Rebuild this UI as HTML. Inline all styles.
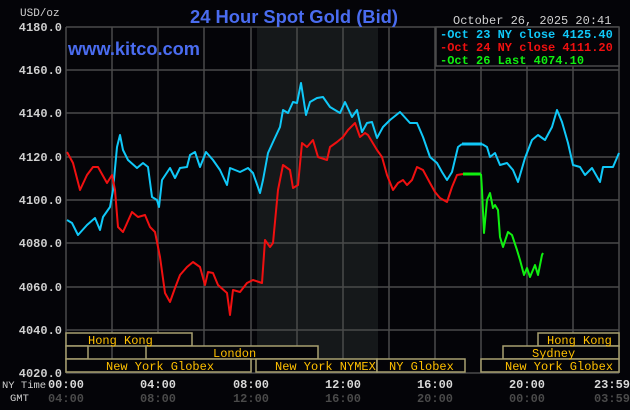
<!DOCTYPE html>
<html><head><meta charset="utf-8"><style>
html,body{margin:0;padding:0;background:#040408;}
svg{display:block}
.m{font-family:"Liberation Mono","DejaVu Sans Mono",monospace;font-size:12px;}
</style></head><body>
<svg width="630" height="410" xmlns="http://www.w3.org/2000/svg">
<rect width="630" height="410" fill="#040408"/>
<rect x="257" y="27" width="121" height="346" fill="#15181a"/>
<g stroke="#4a4a4a" stroke-width="1.5">
<line x1="66" y1="27" x2="619" y2="27"/><line x1="66" y1="70" x2="619" y2="70"/>
<line x1="66" y1="113" x2="619" y2="113"/><line x1="66" y1="157" x2="619" y2="157"/>
<line x1="66" y1="200" x2="619" y2="200"/><line x1="66" y1="243" x2="619" y2="243"/>
<line x1="66" y1="287" x2="619" y2="287"/><line x1="66" y1="330" x2="619" y2="330"/>
<line x1="66" y1="373" x2="619" y2="373"/>
<line x1="66" y1="27" x2="66" y2="373"/><line x1="112" y1="27" x2="112" y2="373"/>
<line x1="158" y1="27" x2="158" y2="373"/><line x1="204" y1="27" x2="204" y2="373"/>
<line x1="251" y1="27" x2="251" y2="373"/><line x1="297" y1="27" x2="297" y2="373"/>
<line x1="343" y1="27" x2="343" y2="373"/><line x1="389" y1="27" x2="389" y2="373"/>
<line x1="435" y1="27" x2="435" y2="373"/><line x1="481" y1="27" x2="481" y2="373"/>
<line x1="527" y1="27" x2="527" y2="373"/><line x1="573" y1="27" x2="573" y2="373"/>
<line x1="619" y1="27" x2="619" y2="373"/>
</g>
<rect x="436" y="27" width="183" height="39" fill="#040408" stroke="#4a4a4a" stroke-width="1.5"/>
<g class="m" font-weight="bold" font-size="11.5">
<text x="440" y="38" fill="#10c8f8">-Oct 23 NY close 4125.40</text>
<text x="440" y="51" fill="#f01010">-Oct 24 NY close 4111.20</text>
<text x="440" y="64" fill="#10f010">-Oct 26 Last 4074.10</text>
</g>
<text x="190" y="23" font-family="'Liberation Sans',sans-serif" font-size="18" font-weight="bold" fill="#4a6cf0" textLength="208" lengthAdjust="spacingAndGlyphs">24 Hour Spot Gold (Bid)</text>
<text x="68" y="55" font-family="'Liberation Sans',sans-serif" font-size="18" font-weight="bold" fill="#4a6cf0" textLength="132" lengthAdjust="spacingAndGlyphs">www.kitco.com</text>
<text x="453" y="24" class="m" fill="#d0d0d0">October 26, 2025 20:41</text>
<g class="m" fill="#d0d0d0" font-weight="bold" text-anchor="end">
<text x="20" y="16" text-anchor="start" font-weight="normal" font-size="11">USD/oz</text>
<text x="62" y="31">4180.0</text><text x="62" y="74">4160.0</text>
<text x="62" y="117">4140.0</text><text x="62" y="161">4120.0</text>
<text x="62" y="204">4100.0</text><text x="62" y="247">4080.0</text>
<text x="62" y="291">4060.0</text><text x="62" y="334">4040.0</text>
<text x="62" y="377">4020.0</text>
</g>
<g fill="#040408" stroke="#a8a070" stroke-width="1.5">
<rect x="66" y="333" width="126" height="13"/>
<rect x="66" y="346" width="22" height="13"/>
<rect x="146" y="346" width="172" height="13"/>
<rect x="66" y="359" width="185" height="13"/>
<rect x="256" y="359" width="121" height="13"/>
<rect x="377" y="359" width="88" height="13"/>
<rect x="538" y="333" width="81" height="13"/>
<rect x="503" y="346" width="116" height="13"/>
<rect x="481" y="359" width="138" height="13"/>
</g>
<g class="m" fill="#ffc000" font-size="11">
<text x="88" y="344">Hong Kong</text>
<text x="213" y="357">London</text>
<text x="106" y="370">New York Globex</text>
<text x="275" y="370">New York NYMEX</text>
<text x="389" y="370">NY Globex</text>
<text x="547" y="344">Hong Kong</text>
<text x="532" y="357">Sydney</text>
<text x="505" y="370">New York Globex</text>
</g>
<g class="m" font-weight="bold">
<text x="2" y="388" fill="#d0d0d0" font-weight="normal" font-size="10.5">NY Time</text>
<text x="10" y="401" fill="#d0d0d0" font-weight="normal" font-size="10.5">GMT</text>
<g fill="#d8d8d8" text-anchor="middle">
<text x="66" y="388">00:00</text><text x="158" y="388">04:00</text>
<text x="251" y="388">08:00</text><text x="343" y="388">12:00</text>
<text x="435" y="388">16:00</text><text x="527" y="388">20:00</text>
<text x="612" y="388">23:59</text></g>
<g fill="#4a4a4a" text-anchor="middle">
<text x="66" y="402">04:00</text><text x="158" y="402">08:00</text>
<text x="251" y="402">12:00</text><text x="343" y="402">16:00</text>
<text x="435" y="402">20:00</text><text x="527" y="402">00:00</text>
<text x="612" y="402">03:59</text></g>
</g>
<g fill="none" stroke-width="2" stroke-linejoin="round">
<polyline stroke="#10c8f8" points="67,220 72,223 78,235 87,225 95,218 100,230 103,217 110,207 113,190 117,147 120,135 123,150 128,160 137,168 143,163 148,167 152,197 157,200 159,207 162,180 170,168 175,178 180,168 187,167 190,155 195,152 200,167 206,152 213,160 220,170 227,185 230,168 240,172 248,168 253,173 260,193 263,180 268,153 273,142 280,127 283,110 288,113 293,102 297,103 301,83 306,115 310,102 317,98 323,97 330,107 340,113 345,102 352,117 357,110 362,132 367,123 372,122 377,138 383,127 390,120 400,112 410,123 417,123 423,137 430,157 437,163 442,172 447,180 452,172 458,147 462,144"/>
<polyline stroke="#10c8f8" stroke-width="3" points="462,144 482,144"/>
<polyline stroke="#10c8f8" points="482,144 487,147 490,157 495,153 500,165 507,163 513,170 518,182 525,158 532,140 538,135 545,140 552,127 557,110 562,122 568,143 573,165 580,167 585,175 592,168 600,182 603,167 613,167 619,153"/>
<polyline stroke="#f01010" points="67,152 73,163 80,190 87,175 93,167 98,167 107,183 112,175 115,190 118,227 123,232 132,212 138,217 145,215 150,227 155,232 160,257 165,293 170,302 175,288 180,275 187,267 193,262 200,267 205,285 208,272 213,273 218,285 227,293 230,315 233,290 240,292 247,283 253,280 262,283 265,240 270,247 273,243 278,190 283,165 290,170 293,188 298,185 302,143 307,147 313,140 318,157 327,160 330,147 337,142 343,137 348,130 355,123 360,137 365,133 368,135 377,150 382,157 387,175 393,190 398,183 403,180 407,185 412,180 417,167 423,170 430,183 435,192 440,198 447,202 452,187 457,175 463,174"/>
<polyline stroke="#10f010" stroke-width="3" points="463,174 481,174"/>
<polyline stroke="#10f010" points="481,174 482,190 484,233 487,200 490,193 493,208 495,205 498,210 500,237 503,247 508,232 512,235 517,250 520,260 524,275 527,268 530,277 535,265 538,275 542,255 543,253"/>
</g>
</svg>
</body></html>
